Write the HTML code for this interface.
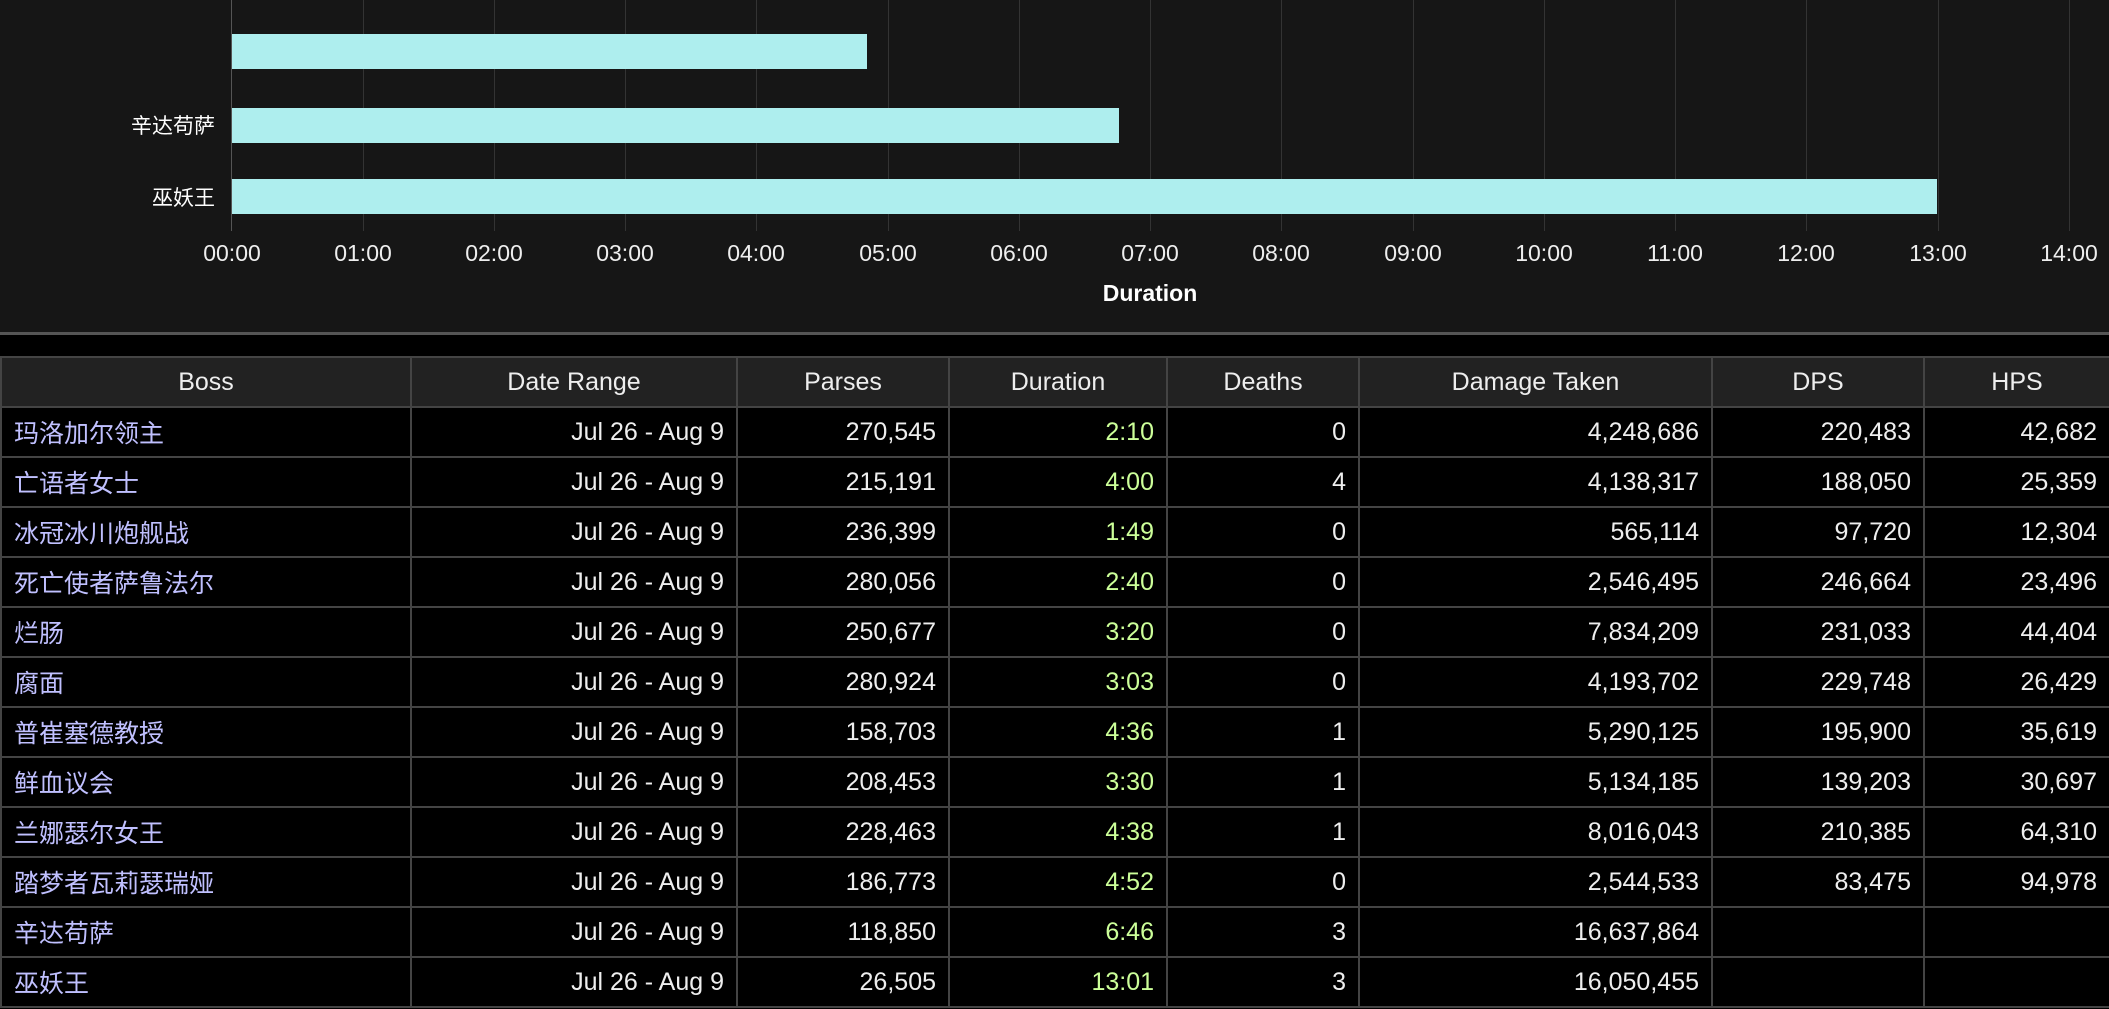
<!DOCTYPE html>
<html><head><meta charset="utf-8"><style>
*{margin:0;padding:0;box-sizing:border-box}
body{width:2109px;height:1009px;background:#000;overflow:hidden;position:relative;font-family:"Liberation Sans","Noto Sans CJK SC",sans-serif}
#chart{position:absolute;left:0;top:0;width:2109px;height:335px;background:#161616;border-bottom:3px solid #555}
.grid{position:absolute;top:0;height:231px;width:1px;background:#333}
.bar{position:absolute;left:232px;height:35px;background:#aeeeee}
.tl{position:absolute;top:240px;width:100px;margin-left:-50px;text-align:center;color:#eee;font-size:23px}
.yl{position:absolute;right:1894px;color:#fff;font-size:21px;white-space:nowrap}
table{position:absolute;left:0;top:356px;width:2109px;border-collapse:collapse;table-layout:fixed}
th,td{border:2px solid #444;height:50px;font-size:25px;color:#eee;padding:0 12px;white-space:nowrap;overflow:hidden}
th{background:#222;font-weight:normal;text-align:center}
td{background:#000;text-align:right}
td:first-child{text-align:left;color:#c0c0ff}
td.d{color:#ccff99}
</style></head><body>
<div id="chart">
<div class="grid" style="left:231px;background:#555"></div>
<div class="grid" style="left:363px"></div><div class="grid" style="left:494px"></div><div class="grid" style="left:625px"></div><div class="grid" style="left:756px"></div><div class="grid" style="left:888px"></div><div class="grid" style="left:1019px"></div><div class="grid" style="left:1150px"></div><div class="grid" style="left:1281px"></div><div class="grid" style="left:1413px"></div><div class="grid" style="left:1544px"></div><div class="grid" style="left:1675px"></div><div class="grid" style="left:1806px"></div><div class="grid" style="left:1938px"></div><div class="grid" style="left:2069px"></div>
<div class="bar" style="top:34px;width:635px"></div>
<div class="bar" style="top:108px;width:887px"></div>
<div class="bar" style="top:179px;width:1705px"></div>
<div class="yl" style="top:110px">辛达苟萨</div>
<div class="yl" style="top:182px">巫妖王</div>
<div class="tl" style="left:232px">00:00</div><div class="tl" style="left:363px">01:00</div><div class="tl" style="left:494px">02:00</div><div class="tl" style="left:625px">03:00</div><div class="tl" style="left:756px">04:00</div><div class="tl" style="left:888px">05:00</div><div class="tl" style="left:1019px">06:00</div><div class="tl" style="left:1150px">07:00</div><div class="tl" style="left:1281px">08:00</div><div class="tl" style="left:1413px">09:00</div><div class="tl" style="left:1544px">10:00</div><div class="tl" style="left:1675px">11:00</div><div class="tl" style="left:1806px">12:00</div><div class="tl" style="left:1938px">13:00</div><div class="tl" style="left:2069px">14:00</div>
<div style="position:absolute;left:1050px;width:200px;top:280px;text-align:center;color:#fff;font-weight:bold;font-size:23px">Duration</div>
</div>
<table>
<colgroup><col style="width:410px"><col style="width:326px"><col style="width:212px"><col style="width:218px"><col style="width:192px"><col style="width:353px"><col style="width:212px"><col style="width:186px"></colgroup>
<tr><th>Boss</th><th>Date Range</th><th>Parses</th><th>Duration</th><th>Deaths</th><th>Damage Taken</th><th>DPS</th><th>HPS</th></tr>
<tr><td>玛洛加尔领主</td><td>Jul 26 - Aug 9</td><td>270,545</td><td class="d">2:10</td><td>0</td><td>4,248,686</td><td>220,483</td><td>42,682</td></tr>
<tr><td>亡语者女士</td><td>Jul 26 - Aug 9</td><td>215,191</td><td class="d">4:00</td><td>4</td><td>4,138,317</td><td>188,050</td><td>25,359</td></tr>
<tr><td>冰冠冰川炮舰战</td><td>Jul 26 - Aug 9</td><td>236,399</td><td class="d">1:49</td><td>0</td><td>565,114</td><td>97,720</td><td>12,304</td></tr>
<tr><td>死亡使者萨鲁法尔</td><td>Jul 26 - Aug 9</td><td>280,056</td><td class="d">2:40</td><td>0</td><td>2,546,495</td><td>246,664</td><td>23,496</td></tr>
<tr><td>烂肠</td><td>Jul 26 - Aug 9</td><td>250,677</td><td class="d">3:20</td><td>0</td><td>7,834,209</td><td>231,033</td><td>44,404</td></tr>
<tr><td>腐面</td><td>Jul 26 - Aug 9</td><td>280,924</td><td class="d">3:03</td><td>0</td><td>4,193,702</td><td>229,748</td><td>26,429</td></tr>
<tr><td>普崔塞德教授</td><td>Jul 26 - Aug 9</td><td>158,703</td><td class="d">4:36</td><td>1</td><td>5,290,125</td><td>195,900</td><td>35,619</td></tr>
<tr><td>鲜血议会</td><td>Jul 26 - Aug 9</td><td>208,453</td><td class="d">3:30</td><td>1</td><td>5,134,185</td><td>139,203</td><td>30,697</td></tr>
<tr><td>兰娜瑟尔女王</td><td>Jul 26 - Aug 9</td><td>228,463</td><td class="d">4:38</td><td>1</td><td>8,016,043</td><td>210,385</td><td>64,310</td></tr>
<tr><td>踏梦者瓦莉瑟瑞娅</td><td>Jul 26 - Aug 9</td><td>186,773</td><td class="d">4:52</td><td>0</td><td>2,544,533</td><td>83,475</td><td>94,978</td></tr>
<tr><td>辛达苟萨</td><td>Jul 26 - Aug 9</td><td>118,850</td><td class="d">6:46</td><td>3</td><td>16,637,864</td><td></td><td></td></tr>
<tr><td>巫妖王</td><td>Jul 26 - Aug 9</td><td>26,505</td><td class="d">13:01</td><td>3</td><td>16,050,455</td><td></td><td></td></tr>
</table>
</body></html>
